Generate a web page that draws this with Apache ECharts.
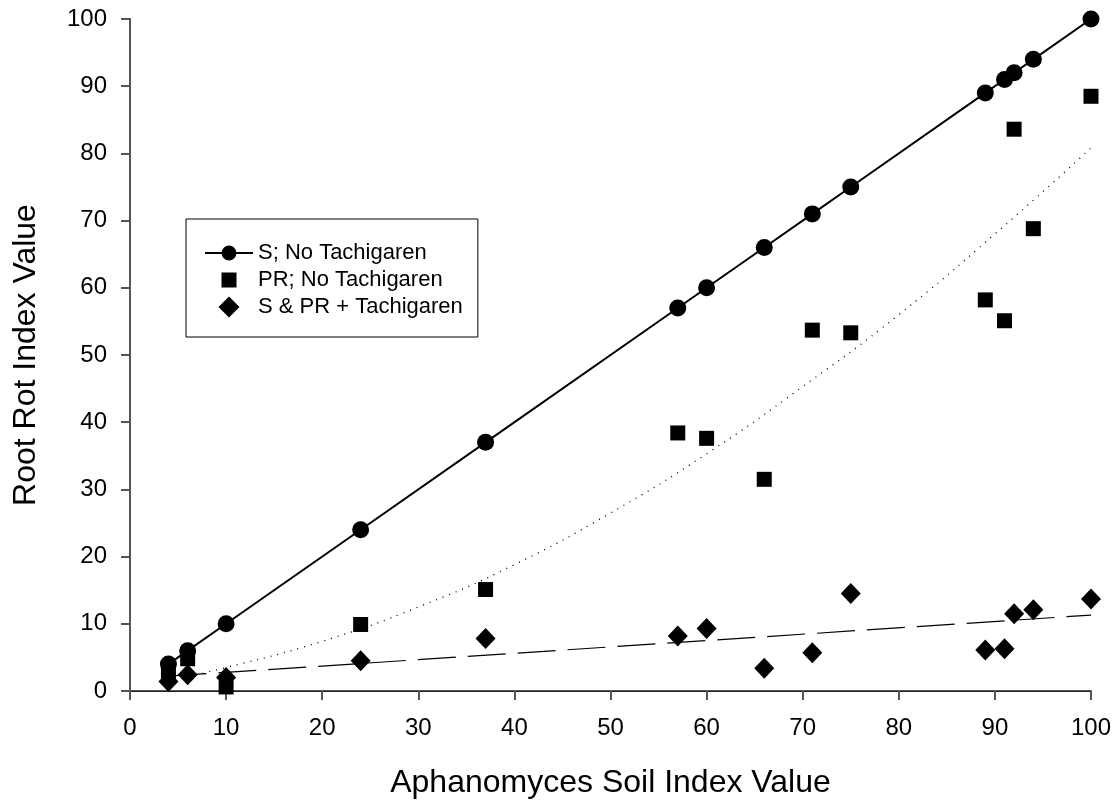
<!DOCTYPE html>
<html>
<head>
<meta charset="utf-8">
<script src="https://cdn.jsdelivr.net/npm/echarts@6/dist/echarts.min.js"></script>
<style>html,body{margin:0;padding:0;background:#fff;}#c{width:1118px;height:804px;}</style>
</head>
<body>
<div id="c"></div>
<script>
// Soil index values (x)
const soilIndex = [4, 6, 10, 24, 37, 57, 60, 66, 71, 75, 89, 91, 92, 94, 100];
// S; No Tachigaren
const sNoTach = [4, 6, 10, 24, 37, 57, 60, 66, 71, 75, 89, 91, 92, 94, 100];
// PR; No Tachigaren
const prNoTach = [2.7, 4.8, 0.6, 9.9, 15.1, 38.4, 37.6, 31.5, 53.7, 53.3, 58.2, 55.1, 83.6, 68.8, 88.5];
// S & PR + Tachigaren
const tachigaren = [1.4, 2.4, 2.0, 4.5, 7.8, 8.2, 9.3, 3.4, 5.7, 14.5, 6.1, 6.3, 11.5, 12.1, 13.7];
// Trend lines
const prTrendX = [4, 10, 20, 30, 40, 50, 60, 70, 80, 90, 100];
const prTrendY = [1.5, 3.5, 7.4, 12.5, 18.8, 26.5, 35.3, 45.3, 56.0, 68.0, 80.8];
const tachTrendX = [4, 100];
const tachTrendY = [2.2, 11.3];
const seriesNames = ['S; No Tachigaren', 'PR; No Tachigaren', 'S & PR + Tachigaren'];

const zip = (a, b) => a.map((v, i) => [v, b[i]]);

const chart = echarts.init(document.getElementById('c'));
const font = 'Liberation Sans, Arial, sans-serif';
const iconLineCircle = 'path://M0,0 M48,21 M0,9.6 L17,9.6 L17,11.4 L0,11.4 Z M31,9.6 L48,9.6 L48,11.4 L31,11.4 Z M31.5,10.5 A7.5,7.5 0 1 1 16.5,10.5 A7.5,7.5 0 1 1 31.5,10.5 Z';
const iconSquare = 'path://M0,0 M21,21 M3,3 L18,3 L18,18 L3,18 Z';
const iconDiamond = 'path://M10.5,0 L21,10.5 L10.5,21 L0,10.5 Z';

chart.setOption({
  animation: false,
  backgroundColor: '#fff',
  grid: { left: 130, right: 27, top: 19, bottom: 113 },
  legend: {
    orient: 'vertical',
    left: 186, top: 219,
    padding: [23, 15, 19, 19],
    borderColor: '#000', borderWidth: 1,
    itemGap: 5,
    itemWidth: 48, itemHeight: 21,
    symbolKeepAspect: true,
    itemStyle: { color: '#000' },
    textStyle: { fontFamily: font, fontSize: 22, color: '#000' },
    data: [
      { name: seriesNames[0], icon: iconLineCircle },
      { name: seriesNames[1], icon: iconSquare },
      { name: seriesNames[2], icon: iconDiamond }
    ]
  },
  xAxis: [{
    type: 'value', min: 0, max: 100, interval: 10,
    name: 'Aphanomyces Soil Index Value', nameLocation: 'middle', nameGap: 76,
    nameTextStyle: { fontFamily: font, fontSize: 32, color: '#000' },
    axisLine: { lineStyle: { color: '#555', width: 2 } },
    axisTick: { inside: false, length: 9, lineStyle: { color: '#555', width: 2 } },
    axisLabel: { fontFamily: font, fontSize: 24, color: '#000', margin: 25 },
    splitLine: { show: false }
  }, {
    type: 'value', min: 0, max: 100, position: 'top',
    axisLine: { lineStyle: { color: '#222', width: 1 } },
    axisTick: { show: false }, axisLabel: { show: false }, splitLine: { show: false }
  }],
  yAxis: [{
    type: 'value', min: 0, max: 100, interval: 10,
    name: 'Root Rot Index Value', nameLocation: 'middle', nameGap: 88,
    nameTextStyle: { fontFamily: font, fontSize: 32, color: '#000' },
    axisLine: { show: true, lineStyle: { color: '#555', width: 2 } },
    axisTick: { show: true, inside: false, length: 9, lineStyle: { color: '#555', width: 2 } },
    axisLabel: { fontFamily: font, fontSize: 24, color: '#000', margin: 23 },
    splitLine: { show: false }
  }, {
    type: 'value', min: 0, max: 100, position: 'right',
    axisLine: { show: true, lineStyle: { color: '#555', width: 2 } },
    axisTick: { show: false }, axisLabel: { show: false }, splitLine: { show: false }
  }],
  series: [
    {
      name: 'PR trend', type: 'line', data: zip(prTrendX, prTrendY), smooth: true,
      symbol: 'none', lineStyle: { color: '#000', width: 1.3, type: [1, 6] }, z: 1
    },
    {
      name: 'Tach trend', type: 'line', data: zip(tachTrendX, tachTrendY),
      symbol: 'none', lineStyle: { color: '#000', width: 1.2, type: [38, 12] }, z: 1
    },
    {
      name: seriesNames[0], type: 'line', data: zip(soilIndex, sNoTach),
      symbol: 'circle', symbolSize: 17, itemStyle: { color: '#000', opacity: 1 },
      lineStyle: { color: '#000', width: 2 }, z: 3
    },
    {
      name: seriesNames[1], type: 'scatter', data: zip(soilIndex, prNoTach),
      symbol: 'rect', symbolSize: 15, itemStyle: { color: '#000', opacity: 1 }, z: 3
    },
    {
      name: seriesNames[2], type: 'scatter', data: zip(soilIndex, tachigaren),
      symbol: 'diamond', symbolSize: [20, 21], itemStyle: { color: '#000', opacity: 1 }, z: 3
    }
  ]
});
</script>
</body>
</html>
